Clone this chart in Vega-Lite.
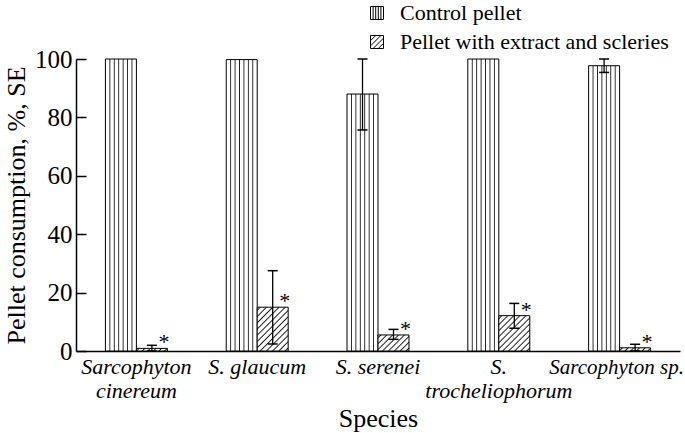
{
  "$schema": "https://vega.github.io/schema/vega-lite/v6.json",
  "width": 604,
  "height": 292,
  "autosize": "none",
  "padding": {"left": 76, "top": 59, "right": 5, "bottom": 82},
  "background": "white",
  "config": {
    "view": {"stroke": null},
    "font": "'Liberation Serif', 'Times New Roman', Times, serif",
    "axis": {"grid": false, "domainColor": "black", "tickColor": "black", "labelColor": "black", "titleColor": "black", "titleFontWeight": "normal", "labelFont": "'Liberation Serif', 'Times New Roman', Times, serif", "titleFont": "'Liberation Serif', 'Times New Roman', Times, serif"},
    "legend": {"labelFont": "'Liberation Serif', 'Times New Roman', Times, serif"},
    "text": {"font": "'Liberation Serif', 'Times New Roman', Times, serif"}
  },
  "data": {
    "values": [
      {"species": "Sarcophyton cinereum", "group": "Control pellet", "value": 100, "lo": null, "hi": null, "star": null},
      {"species": "Sarcophyton cinereum", "group": "Pellet with extract and scleries", "value": 0.9, "lo": 0, "hi": 1.95, "star": "*"},
      {"species": "S. glaucum", "group": "Control pellet", "value": 99.8, "lo": null, "hi": null, "star": null},
      {"species": "S. glaucum", "group": "Pellet with extract and scleries", "value": 15, "lo": 2.4, "hi": 27.5, "star": "*"},
      {"species": "S. serenei", "group": "Control pellet", "value": 88, "lo": 75.7, "hi": 100, "star": null},
      {"species": "S. serenei", "group": "Pellet with extract and scleries", "value": 5.5, "lo": 4.0, "hi": 7.4, "star": "*"},
      {"species": "S. trocheliophorum", "group": "Control pellet", "value": 100, "lo": null, "hi": null, "star": null},
      {"species": "S. trocheliophorum", "group": "Pellet with extract and scleries", "value": 12.1, "lo": 7.8, "hi": 16.3, "star": "*"},
      {"species": "Sarcophyton sp.", "group": "Control pellet", "value": 97.7, "lo": 95.4, "hi": 100, "star": null},
      {"species": "Sarcophyton sp.", "group": "Pellet with extract and scleries", "value": 1.1, "lo": 0, "hi": 2.3, "star": "*"}
    ]
  },
  "encoding": {
    "x": {
      "field": "species", "type": "nominal",
      "sort": ["Sarcophyton cinereum", "S. glaucum", "S. serenei", "S. trocheliophorum", "Sarcophyton sp."],
      "scale": {"paddingInner": 0.487, "paddingOuter": 0.2435},
      "axis": {
        "title": "Species", "titleFontSize": 26, "titlePadding": 4,
        "labelFontSize": {"condition": {"test": "datum.value == 'Sarcophyton sp.'", "value": 21}, "value": 22},
        "labelOffset": {"condition": {"test": "datum.value == 'Sarcophyton sp.'", "value": -3}, "value": 0},
        "labelFontStyle": "italic", "labelLineHeight": 24, "labelAngle": 0,
        "labelPadding": 5, "labelLimit": 400, "ticks": false, "domainWidth": 1.5,
        "labelExpr": "datum.value == 'Sarcophyton cinereum' ? ['Sarcophyton', 'cinereum'] : datum.value == 'S. trocheliophorum' ? ['S.', 'trocheliophorum'] : datum.value"
      }
    },
    "xOffset": {
      "field": "group", "type": "nominal",
      "sort": ["Control pellet", "Pellet with extract and scleries"],
      "scale": {"paddingInner": 0, "paddingOuter": 0}
    }
  },
  "layer": [
    {
      "mark": {"type": "bar", "stroke": "black", "strokeWidth": 1},
      "encoding": {
        "y": {
          "field": "value", "type": "quantitative",
          "scale": {"domain": [0, 100], "nice": false},
          "title": "Pellet consumption, %, SE",
          "axis": {
            "titleFontSize": 26, "titlePadding": 5,
            "labelFontSize": 25, "values": [0, 20, 40, 60, 80, 100],
            "tickSize": -10, "tickWidth": 1.5, "labelPadding": 14, "domainWidth": 1.5
          }
        },
        "fill": {
          "condition": [
            {"test": "datum.group == 'Control pellet'", "value": {"gradient": "linear", "x1": 0, "y1": 0, "x2": 1, "y2": 0, "stops": [
              {"offset": 0, "color": "white"},
              {"offset": 0.1129, "color": "white"}, {"offset": 0.1429, "color": "#222"}, {"offset": 0.1729, "color": "white"},
              {"offset": 0.2557, "color": "white"}, {"offset": 0.2857, "color": "#222"}, {"offset": 0.3157, "color": "white"},
              {"offset": 0.3986, "color": "white"}, {"offset": 0.4286, "color": "#222"}, {"offset": 0.4586, "color": "white"},
              {"offset": 0.5414, "color": "white"}, {"offset": 0.5714, "color": "#222"}, {"offset": 0.6014, "color": "white"},
              {"offset": 0.6843, "color": "white"}, {"offset": 0.7143, "color": "#222"}, {"offset": 0.7443, "color": "white"},
              {"offset": 0.8271, "color": "white"}, {"offset": 0.8571, "color": "#222"}, {"offset": 0.8871, "color": "white"},
              {"offset": 1, "color": "white"}]}},
            {"test": "datum.species == 'S. glaucum'", "value": {"gradient": "linear", "x1": 0, "y1": 0, "x2": 0.8053, "y2": 1.1378, "stops": [
              {"offset": 0, "color": "white"},
              {"offset": 0.0243, "color": "white"}, {"offset": 0.0417, "color": "#111"}, {"offset": 0.0591, "color": "white"},
              {"offset": 0.1076, "color": "white"}, {"offset": 0.125, "color": "#111"}, {"offset": 0.1424, "color": "white"},
              {"offset": 0.1909, "color": "white"}, {"offset": 0.2083, "color": "#111"}, {"offset": 0.2257, "color": "white"},
              {"offset": 0.2743, "color": "white"}, {"offset": 0.2917, "color": "#111"}, {"offset": 0.3091, "color": "white"},
              {"offset": 0.3576, "color": "white"}, {"offset": 0.375, "color": "#111"}, {"offset": 0.3924, "color": "white"},
              {"offset": 0.4409, "color": "white"}, {"offset": 0.4583, "color": "#111"}, {"offset": 0.4757, "color": "white"},
              {"offset": 0.5243, "color": "white"}, {"offset": 0.5417, "color": "#111"}, {"offset": 0.5591, "color": "white"},
              {"offset": 0.6076, "color": "white"}, {"offset": 0.625, "color": "#111"}, {"offset": 0.6424, "color": "white"},
              {"offset": 0.6909, "color": "white"}, {"offset": 0.7083, "color": "#111"}, {"offset": 0.7257, "color": "white"},
              {"offset": 0.7743, "color": "white"}, {"offset": 0.7917, "color": "#111"}, {"offset": 0.8091, "color": "white"},
              {"offset": 0.8576, "color": "white"}, {"offset": 0.875, "color": "#111"}, {"offset": 0.8924, "color": "white"},
              {"offset": 0.9409, "color": "white"}, {"offset": 0.9583, "color": "#111"}, {"offset": 0.9757, "color": "white"},
              {"offset": 1, "color": "white"}]}},
            {"test": "datum.species == 'S. serenei'", "value": {"gradient": "linear", "x1": 0, "y1": 0, "x2": 1.1969, "y2": 0.62, "stops": [
              {"offset": 0, "color": "white"},
              {"offset": 0.0349, "color": "white"}, {"offset": 0.0625, "color": "#111"}, {"offset": 0.0901, "color": "white"},
              {"offset": 0.1599, "color": "white"}, {"offset": 0.1875, "color": "#111"}, {"offset": 0.2151, "color": "white"},
              {"offset": 0.2849, "color": "white"}, {"offset": 0.3125, "color": "#111"}, {"offset": 0.3401, "color": "white"},
              {"offset": 0.4099, "color": "white"}, {"offset": 0.4375, "color": "#111"}, {"offset": 0.4651, "color": "white"},
              {"offset": 0.5349, "color": "white"}, {"offset": 0.5625, "color": "#111"}, {"offset": 0.5901, "color": "white"},
              {"offset": 0.6599, "color": "white"}, {"offset": 0.6875, "color": "#111"}, {"offset": 0.7151, "color": "white"},
              {"offset": 0.7849, "color": "white"}, {"offset": 0.8125, "color": "#111"}, {"offset": 0.8401, "color": "white"},
              {"offset": 0.9099, "color": "white"}, {"offset": 0.9375, "color": "#111"}, {"offset": 0.9651, "color": "white"},
              {"offset": 1, "color": "white"}]}},
            {"test": "datum.species == 'S. trocheliophorum'", "value": {"gradient": "linear", "x1": 0, "y1": 0, "x2": 0.9308, "y2": 1.0608, "stops": [
              {"offset": 0, "color": "white"},
              {"offset": 0.0259, "color": "white"}, {"offset": 0.0455, "color": "#111"}, {"offset": 0.0651, "color": "white"},
              {"offset": 0.1168, "color": "white"}, {"offset": 0.1364, "color": "#111"}, {"offset": 0.156, "color": "white"},
              {"offset": 0.2077, "color": "white"}, {"offset": 0.2273, "color": "#111"}, {"offset": 0.2469, "color": "white"},
              {"offset": 0.2986, "color": "white"}, {"offset": 0.3182, "color": "#111"}, {"offset": 0.3378, "color": "white"},
              {"offset": 0.3895, "color": "white"}, {"offset": 0.4091, "color": "#111"}, {"offset": 0.4287, "color": "white"},
              {"offset": 0.4804, "color": "white"}, {"offset": 0.5, "color": "#111"}, {"offset": 0.5196, "color": "white"},
              {"offset": 0.5713, "color": "white"}, {"offset": 0.5909, "color": "#111"}, {"offset": 0.6105, "color": "white"},
              {"offset": 0.6622, "color": "white"}, {"offset": 0.6818, "color": "#111"}, {"offset": 0.7014, "color": "white"},
              {"offset": 0.7531, "color": "white"}, {"offset": 0.7727, "color": "#111"}, {"offset": 0.7923, "color": "white"},
              {"offset": 0.844, "color": "white"}, {"offset": 0.8636, "color": "#111"}, {"offset": 0.8832, "color": "white"},
              {"offset": 0.9349, "color": "white"}, {"offset": 0.9545, "color": "#111"}, {"offset": 0.9741, "color": "white"},
              {"offset": 1, "color": "white"}]}},
            {"test": "datum.species == 'Sarcophyton cinereum'", "value": {"gradient": "linear", "x1": 0, "y1": 0, "x2": 1.0771, "y2": 0.0914, "stops": [
              {"offset": 0, "color": "white"},
              {"offset": 0.0446, "color": "white"}, {"offset": 0.0833, "color": "#111"}, {"offset": 0.122, "color": "white"},
              {"offset": 0.2113, "color": "white"}, {"offset": 0.25, "color": "#111"}, {"offset": 0.2887, "color": "white"},
              {"offset": 0.378, "color": "white"}, {"offset": 0.4167, "color": "#111"}, {"offset": 0.4554, "color": "white"},
              {"offset": 0.5446, "color": "white"}, {"offset": 0.5833, "color": "#111"}, {"offset": 0.622, "color": "white"},
              {"offset": 0.7113, "color": "white"}, {"offset": 0.75, "color": "#111"}, {"offset": 0.7887, "color": "white"},
              {"offset": 0.878, "color": "white"}, {"offset": 0.9167, "color": "#111"}, {"offset": 0.9554, "color": "white"},
              {"offset": 1, "color": "white"}]}},
            {"test": "datum.species == 'Sarcophyton sp.'", "value": {"gradient": "linear", "x1": 0, "y1": 0, "x2": 1.0918, "y2": 0.1131, "stops": [
              {"offset": 0, "color": "white"},
              {"offset": 0.0446, "color": "white"}, {"offset": 0.0833, "color": "#111"}, {"offset": 0.122, "color": "white"},
              {"offset": 0.2113, "color": "white"}, {"offset": 0.25, "color": "#111"}, {"offset": 0.2887, "color": "white"},
              {"offset": 0.378, "color": "white"}, {"offset": 0.4167, "color": "#111"}, {"offset": 0.4554, "color": "white"},
              {"offset": 0.5446, "color": "white"}, {"offset": 0.5833, "color": "#111"}, {"offset": 0.622, "color": "white"},
              {"offset": 0.7113, "color": "white"}, {"offset": 0.75, "color": "#111"}, {"offset": 0.7887, "color": "white"},
              {"offset": 0.878, "color": "white"}, {"offset": 0.9167, "color": "#111"}, {"offset": 0.9554, "color": "white"},
              {"offset": 1, "color": "white"}]}}
          ],
          "value": "white"
        }
      }
    },
    {
      "mark": {"type": "point", "opacity": 0, "filled": false},
      "encoding": {
        "y": {"field": "value", "type": "quantitative", "title": "Pellet consumption, %, SE"},
        "shape": {
          "field": "group", "type": "nominal",
          "scale": {
            "domain": ["Control pellet", "Pellet with extract and scleries"],
            "range": [
              "M-1,-1H1V1H-1Z M-0.6,-1V1 M-0.2,-1V1 M0.2,-1V1 M0.6,-1V1",
              "M-1,-1H1V1H-1Z M-1,-0.2L-0.2,-1 M-1,0.6L0.6,-1 M-0.6,1L1,-0.6 M0.2,1L1,0.2"
            ]
          },
          "legend": {
            "orient": "none", "legendX": 290, "legendY": -57, "title": null,
            "symbolSize": 169, "symbolStrokeWidth": 1, "symbolStrokeColor": "black", "symbolFillColor": "white", "symbolOpacity": 1,
            "labelFontSize": 22, "labelColor": "black",
            "labelOffset": 12, "rowPadding": 7, "padding": 0, "labelLimit": 400
          }
        }
      }
    },
    {
      "transform": [{"filter": "isValid(datum.hi)"}],
      "mark": {"type": "rule", "color": "black", "strokeWidth": 1.3},
      "encoding": {
        "y": {"field": "lo", "type": "quantitative", "title": "Pellet consumption, %, SE"},
        "y2": {"field": "hi"}
      }
    },
    {
      "transform": [{"filter": "isValid(datum.hi)"}],
      "mark": {"type": "tick", "color": "black", "thickness": 1.5, "size": 10, "opacity": 1},
      "encoding": {
        "y": {"field": "hi", "type": "quantitative", "title": "Pellet consumption, %, SE"}
      }
    },
    {
      "transform": [{"filter": "isValid(datum.hi)"}],
      "mark": {"type": "tick", "color": "black", "thickness": 1.5, "size": 10, "opacity": 1},
      "encoding": {
        "y": {"field": "lo", "type": "quantitative", "title": "Pellet consumption, %, SE"}
      }
    },
    {
      "transform": [{"filter": "isValid(datum.star)"}],
      "mark": {"type": "text", "fontSize": 22, "dx": 12, "dy": 1, "baseline": "alphabetic", "align": "center", "color": "black"},
      "encoding": {
        "y": {"field": "value", "type": "quantitative", "title": "Pellet consumption, %, SE"},
        "text": {"field": "star"}
      }
    }
  ]
}
